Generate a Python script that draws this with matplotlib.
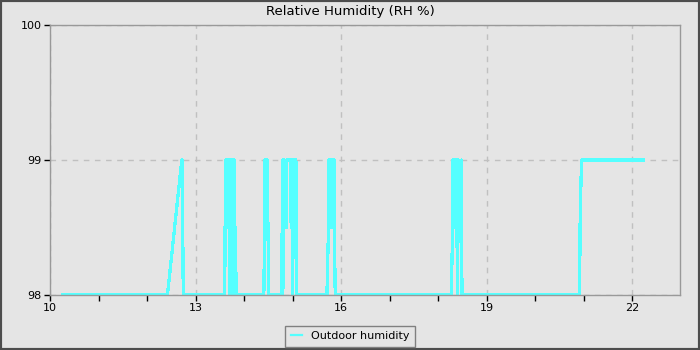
import matplotlib
matplotlib.use('Agg')
import matplotlib.pyplot as plt
from matplotlib.patches import Rectangle
from matplotlib.ticker import MultipleLocator

# --- data: time of day (h) and relative humidity (%) ---
time_h = [10.25, 12.42, 12.715, 12.73, 12.735, 12.745,
          13.588, 13.592, 13.600, 13.608, 13.614, 13.64, 13.645, 13.65, 13.655, 13.69,
          13.695, 13.700, 13.711, 13.74, 13.745, 13.767, 13.79, 13.795, 13.80,
          13.81, 13.82, 13.835,
          14.406, 14.42, 14.427, 14.48, 14.49, 14.509,
          14.763, 14.784, 14.79, 14.798, 14.805, 14.819, 14.87, 14.875, 14.887,
          14.95, 14.969, 14.984, 15.00, 15.016, 15.066, 15.075, 15.087,
          15.705, 15.738, 15.745, 15.773, 15.80, 15.808, 15.85, 15.86, 15.876,
          18.268, 18.295, 18.30, 18.336, 18.345, 18.365, 18.40, 18.41, 18.46,
          18.474, 18.488,
          20.914, 20.92, 20.95, 22.233]
rh = [98, 98, 99, 99, 98.5, 98,
      98, 98.5, 98, 98.5, 99, 99, 98.5, 99, 99, 99,
      98.5, 98, 99, 99, 98, 99, 99, 98.5, 99,
      98, 98.5, 98,
      98, 98.5, 99, 99, 98.5, 98,
      98, 98.5, 99, 98, 99, 99, 98.5, 99, 99,
      99, 98.5, 99, 98, 99, 99, 98.5, 98,
      98, 98.5, 99, 99, 98.5, 99, 99, 98.5, 98,
      98, 98.5, 99, 99, 98.5, 99, 98, 99, 98.5,
      99, 98,
      98, 98.5, 99, 99]

x_major = [10, 13, 16, 19, 22]
y_ticks = [98, 99, 100]

bg = '#e5e5e5'
fig = plt.figure(figsize=(7, 3.5), dpi=100, facecolor=bg)
fig.patches.append(Rectangle((0, 0), 1, 1, transform=fig.transFigure,
                             fill=False, edgecolor='#4d4d4d', linewidth=3))

ax = fig.add_axes([50 / 700, 55 / 350, 630 / 700, 270 / 350])
ax.set_facecolor(bg)
line, = ax.plot(time_h, rh, color='#55ffff', linewidth=1.6, antialiased=False,
                label='Outdoor humidity')

ax.set_xlim(10, 22.98)
ax.set_ylim(98, 100)
ax.set_xticks(x_major)
ax.xaxis.set_minor_locator(MultipleLocator(1))
ax.set_yticks(y_ticks)
ax.tick_params(axis='both', which='both', direction='out', length=4,
               width=1, color='black', labelsize=8, pad=2)
for s in ax.spines.values():
    s.set_color('#999999')
    s.set_linewidth(1)
ax.grid(True, which='major', color='#c0c0c0', linestyle=(0, (4, 4)), linewidth=1)
ax.set_axisbelow(True)

# titre centré dans la bande du haut
fig.text(0.5, 338 / 350, 'Relative Humidity (RH %)', fontsize=9.5,
         ha='center', va='center')

leg = fig.legend(handles=[line], loc='lower center', bbox_to_anchor=(0.5, 0.0),
                 fontsize=8, handlelength=1, frameon=True, fancybox=False,
                 borderpad=0.5, borderaxespad=0.3)
leg.get_frame().set_edgecolor('#808080')
leg.get_frame().set_facecolor(bg)
leg.get_frame().set_alpha(1)

fig.savefig('out.png', dpi=100, facecolor=bg)
